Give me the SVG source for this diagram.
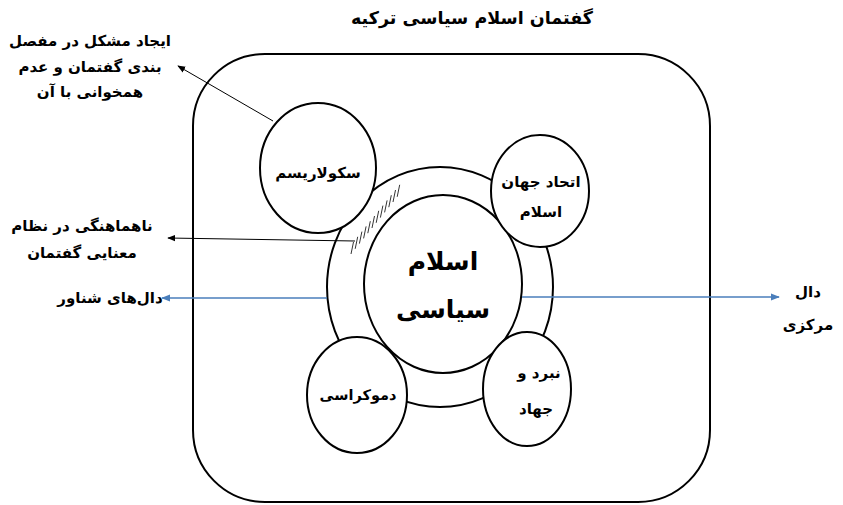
<svg xmlns="http://www.w3.org/2000/svg" width="843" height="505" viewBox="0 0 843 505">
<defs>
<style>
.shape{fill:#fff;stroke:#000;stroke-width:2}
.t{font-family:"DejaVu Sans",sans-serif;font-weight:bold;fill:#000;text-anchor:middle}
.blk{stroke:#000;stroke-width:1;fill:none}
.blu{stroke:#4a7ebb;stroke-width:1.3;fill:none}
.h{stroke:#000;stroke-width:0.8}
</style>
<marker id="ab" viewBox="0 0 10 10" refX="9" refY="5" markerWidth="8" markerHeight="8" orient="auto" markerUnits="userSpaceOnUse"><path d="M0,1 L10,5 L0,9 Z" fill="#000"/></marker>
<marker id="au" viewBox="0 0 10 10" refX="9" refY="5" markerWidth="9" markerHeight="9" orient="auto" markerUnits="userSpaceOnUse"><path d="M0,1 L10,5 L0,9 Z" fill="#4a7ebb"/></marker>
</defs>
<text class="t" x="472" y="24" font-size="17.5">گفتمان اسلام سیاسی ترکیه</text>
<g id="frame"><rect class="shape" x="193" y="54" width="517" height="448" rx="72" ry="72"/></g>
<g id="ring"><ellipse class="shape" cx="440" cy="287" rx="113" ry="120"/></g>
<g id="hatch">
<line class="h" x1="351" y1="254" x2="353.5" y2="242"/>
<line class="h" x1="355.2" y1="248.8" x2="357.7" y2="236.8"/>
<line class="h" x1="359.4" y1="243.6" x2="361.9" y2="231.6"/>
<line class="h" x1="363.6" y1="238.4" x2="366.1" y2="226.4"/>
<line class="h" x1="367.8" y1="233.2" x2="370.3" y2="221.2"/>
<line class="h" x1="372" y1="228" x2="374.5" y2="216"/>
<line class="h" x1="376.2" y1="222.8" x2="378.7" y2="210.8"/>
<line class="h" x1="380.4" y1="217.6" x2="382.9" y2="205.6"/>
<line class="h" x1="384.6" y1="212.4" x2="387.1" y2="200.4"/>
<line class="h" x1="388.8" y1="207.2" x2="391.3" y2="195.2"/>
<line class="h" x1="393" y1="202" x2="395.5" y2="190"/>
<line class="h" x1="397.2" y1="196.8" x2="399.7" y2="184.8"/>
</g>
<g id="center"><ellipse class="shape" cx="443" cy="284" rx="79" ry="89"/>
<text class="t" x="443" y="270" font-size="25">اسلام</text>
<text class="t" x="443" y="318" font-size="25">سیاسی</text></g>
<g id="connectors">
<line class="blk" x1="273" y1="121" x2="178" y2="66" marker-end="url(#ab)"/>
<line class="blk" x1="355" y1="241" x2="168" y2="238" marker-end="url(#ab)"/>
<line class="blu" x1="327" y1="298" x2="162" y2="298" marker-end="url(#au)"/>
<line class="blu" x1="522" y1="297" x2="779" y2="297" marker-end="url(#au)"/>
</g>
<g id="secularism"><ellipse class="shape" cx="318" cy="168" rx="58" ry="65"/>
<text class="t" x="318" y="178" font-size="15">سکولاریسم</text></g>
<g id="unity"><ellipse class="shape" cx="540" cy="191" rx="49" ry="56"/>
<text class="t" x="541" y="187" font-size="15">اتحاد جهان</text>
<text class="t" x="541" y="217" font-size="15">اسلام</text></g>
<g id="democracy"><ellipse class="shape" cx="357" cy="395" rx="50" ry="58"/>
<text class="t" x="358" y="400" font-size="14.5">دموکراسی</text></g>
<g id="jihad"><ellipse class="shape" cx="527" cy="389" rx="44" ry="57"/>
<text class="t" x="539" y="378" font-size="15">نبرد و</text>
<text class="t" x="536" y="414" font-size="15">جهاد</text></g>
<g id="labels">
<text class="t" x="90" y="46" font-size="15">ایجاد مشکل در مفصل</text>
<text class="t" x="90" y="72" font-size="15">بندی گفتمان و عدم</text>
<text class="t" x="90" y="97" font-size="15">همخوانی با آن</text>
<text class="t" x="82" y="231" font-size="15">ناهماهنگی در نظام</text>
<text class="t" x="82" y="258" font-size="15">معنایی گفتمان</text>
<text class="t" x="110" y="303" font-size="15">دال‌های شناور</text>
<text class="t" x="808" y="297" font-size="15">دال</text>
<text class="t" x="808" y="330" font-size="15">مرکزی</text>
</g>
</svg>
